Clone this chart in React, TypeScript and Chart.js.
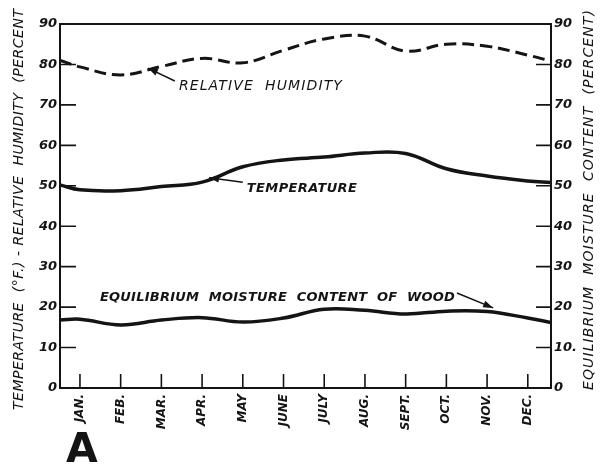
import React, { useEffect, useRef } from "react";
import { Chart, registerables } from "chart.js";

Chart.register(...registerables);

// ---- data ----
const months = ["JAN.", "FEB.", "MAR.", "APR.", "MAY", "JUNE", "JULY", "AUG.", "SEPT.", "OCT.", "NOV.", "DEC."];
const relativeHumidity = [79.4, 77.4, 79.5, 81.5, 80.4, 83.5, 86.3, 87.0, 83.3, 85.0, 84.5, 82.3];
const relativeHumidityEnds = [81.0, 80.8]; // value where the curve meets the left / right axis
const temperature = [49.0, 48.8, 49.8, 50.9, 54.7, 56.4, 57.1, 58.1, 58.0, 54.2, 52.4, 51.2];
const temperatureEnds = [50.2, 50.8];
const moistureContent = [17.0, 15.6, 16.8, 17.4, 16.3, 17.3, 19.5, 19.2, 18.3, 19.0, 18.9, 17.3];
const moistureContentEnds = [16.8, 16.2];
const leftTickLabels = ["0", "10", "20", "30", "40", "50", "60", "70", "80", "90"];
const rightTickLabels = ["0", "10.", "20", "30", "40", "50", "60", "70", "80", "90"];

const X_MIN = -0.49;
const X_MAX = 11.57;
const Y_MAX = 90;

function series(values: number[], ends: number[]) {
  return [
    { x: X_MIN, y: ends[0] },
    ...values.map((y, i) => ({ x: i, y })),
    { x: X_MAX, y: ends[1] },
  ];
}

// annotation anchors in data units
const annotations = [
  { text: "RELATIVE  HUMIDITY", at: { x: 2.43, y: 73.6 }, width: 163, font: 'italic 14px "DejaVu Sans"', tail: { x: 2.33, y: 75.9 }, tip: { x: 1.67, y: 79.1 } },
  { text: "TEMPERATURE", at: { x: 4.1, y: 48.5 }, width: 110, font: 'italic bold 13px "DejaVu Sans"', tail: { x: 4.0, y: 50.9 }, tip: { x: 3.17, y: 52.0 } },
  { text: "EQUILIBRIUM  MOISTURE  CONTENT  OF  WOOD", at: { x: 0.49, y: 21.5 }, width: 355, font: 'italic bold 13px "DejaVu Sans"', tail: { x: 9.26, y: 23.5 }, tip: { x: 10.15, y: 19.8 } },
];

const INK = "#141414";

function fitText(ctx: CanvasRenderingContext2D, text: string, x: number, y: number, width: number) {
  (ctx as any).letterSpacing = "0px";
  const w = ctx.measureText(text).width;
  const n = text.length;
  const sp = n > 1 ? (width - w) / (n - 1) : 0;
  (ctx as any).letterSpacing = sp + "px";
  ctx.fillText(text, x, y);
  (ctx as any).letterSpacing = "0px";
}

const decor = {
  id: "decor",
  afterDraw(chart: any) {
    const ctx: CanvasRenderingContext2D = chart.ctx;
    const { left, right, top, bottom } = chart.chartArea;
    const xs = chart.scales.x;
    const ys = chart.scales.y;
    ctx.save();
    ctx.strokeStyle = INK;
    ctx.fillStyle = INK;
    ctx.lineCap = "butt";

    // top frame
    ctx.lineWidth = 2;
    ctx.beginPath();
    ctx.moveTo(left - 1, top);
    ctx.lineTo(right + 1, top);
    ctx.stroke();

    // inward y ticks
    ctx.lineWidth = 1.6;
    for (let v = 10; v < Y_MAX; v += 10) {
      const py = ys.getPixelForValue(v);
      ctx.beginPath();
      ctx.moveTo(left, py);
      ctx.lineTo(left + 16, py);
      ctx.moveTo(right - 15, py);
      ctx.lineTo(right, py);
      ctx.stroke();
    }
    // inward x ticks
    months.forEach((_, i) => {
      const px = xs.getPixelForValue(i);
      ctx.beginPath();
      ctx.moveTo(px, bottom);
      ctx.lineTo(px, bottom - 14);
      ctx.stroke();
    });

    // axis titles
    ctx.textBaseline = "middle";
    ctx.textAlign = "left";
    ctx.font = 'italic 14px "DejaVu Sans"';
    ctx.save();
    ctx.translate(19, 410);
    ctx.rotate(-Math.PI / 2);
    fitText(ctx, "TEMPERATURE  (°F.) - RELATIVE  HUMIDITY  (PERCENT", 0, 0, 401);
    ctx.restore();
    ctx.save();
    ctx.translate(589, 390);
    ctx.rotate(-Math.PI / 2);
    fitText(ctx, "EQUILIBRIUM  MOISTURE  CONTENT  (PERCENT)", 0, 0, 380);
    ctx.restore();

    // annotations
    ctx.textBaseline = "alphabetic";
    annotations.forEach((a) => {
      ctx.font = a.font;
      fitText(ctx, a.text, xs.getPixelForValue(a.at.x), ys.getPixelForValue(a.at.y), a.width);
      const tx = xs.getPixelForValue(a.tail.x), ty = ys.getPixelForValue(a.tail.y);
      const hx = xs.getPixelForValue(a.tip.x), hy = ys.getPixelForValue(a.tip.y);
      ctx.lineWidth = 1.5;
      ctx.beginPath();
      ctx.moveTo(tx, ty);
      ctx.lineTo(hx, hy);
      ctx.stroke();
      const ang = Math.atan2(hy - ty, hx - tx);
      const L = 10, W = 3.5;
      ctx.beginPath();
      ctx.moveTo(hx, hy);
      ctx.lineTo(hx - L * Math.cos(ang) + W * Math.sin(ang), hy - L * Math.sin(ang) - W * Math.cos(ang));
      ctx.lineTo(hx - L * Math.cos(ang) - W * Math.sin(ang), hy - L * Math.sin(ang) + W * Math.cos(ang));
      ctx.closePath();
      ctx.fill();
    });

    // panel letter
    ctx.font = 'bold 41px "DejaVu Sans"';
    ctx.textBaseline = "alphabetic";
    ctx.textAlign = "left";
    ctx.fillText("A", 66, 462);
    ctx.restore();
  },
};

const whiteBg = {
  id: "whiteBg",
  beforeDraw(chart: any) {
    const ctx = chart.ctx;
    ctx.save();
    ctx.fillStyle = "#ffffff";
    ctx.fillRect(0, 0, chart.width, chart.height);
    ctx.restore();
  },
};

export default function App() {
  const ref = useRef<HTMLCanvasElement | null>(null);
  useEffect(() => {
    if (!ref.current) return;
    const tickFont = { family: '"DejaVu Sans"', size: 13, style: "italic" as const, weight: "bold" as const };
    const chart = new Chart(ref.current, {
      type: "line",
      data: {
        datasets: [
          {
            label: "Relative humidity",
            data: series(relativeHumidity, relativeHumidityEnds),
            borderColor: INK,
            borderWidth: 3,
            borderDash: [12, 6],
            pointRadius: 0,
            tension: 0.4,
            fill: false,
            yAxisID: "y",
          },
          {
            label: "Temperature",
            data: series(temperature, temperatureEnds),
            borderColor: INK,
            borderWidth: 3.5,
            pointRadius: 0,
            tension: 0.4,
            fill: false,
            yAxisID: "y",
          },
          {
            label: "Equilibrium moisture content of wood",
            data: series(moistureContent, moistureContentEnds),
            borderColor: INK,
            borderWidth: 3.5,
            pointRadius: 0,
            tension: 0.4,
            fill: false,
            yAxisID: "y1",
          },
        ],
      },
      options: {
        responsive: false,
        animation: false,
        events: [],
        layout: { padding: { top: 24, left: 0, right: 0, bottom: 0 } },
        plugins: { legend: { display: false }, tooltip: { enabled: false } },
        scales: {
          x: {
            type: "linear",
            min: X_MIN,
            max: X_MAX,
            grid: { display: false, drawTicks: false },
            border: { display: true, color: INK, width: 2 },
            afterBuildTicks: (axis: any) => {
              axis.ticks = months.map((_, i) => ({ value: i }));
            },
            afterFit: (axis: any) => {
              axis.height = 77;
            },
            ticks: {
              autoSkip: false,
              minRotation: 90,
              maxRotation: 90,
              padding: 6,
              color: INK,
              font: { family: '"DejaVu Sans"', size: 12, style: "italic", weight: "bold" },
              callback: (v: any) => months[Math.round(Number(v))] ?? "",
            },
          },
          y: {
            type: "linear",
            position: "left",
            min: 0,
            max: Y_MAX,
            grid: { display: false, drawTicks: false },
            border: { display: true, color: INK, width: 2 },
            afterFit: (axis: any) => {
              axis.width = 60;
            },
            ticks: {
              stepSize: 10,
              padding: 3,
              color: INK,
              font: tickFont,
              callback: (v: any) => leftTickLabels[Math.round(Number(v) / 10)] ?? "",
            },
          },
          y1: {
            type: "linear",
            position: "right",
            min: 0,
            max: Y_MAX,
            grid: { display: false, drawTicks: false },
            border: { display: true, color: INK, width: 2 },
            afterFit: (axis: any) => {
              axis.width = 54;
            },
            ticks: {
              stepSize: 10,
              padding: 3,
              color: INK,
              font: tickFont,
              callback: (v: any) => rightTickLabels[Math.round(Number(v) / 10)] ?? "",
            },
          },
        },
      },
      plugins: [whiteBg, decor],
    });
    return () => chart.destroy();
  }, []);

  return (
    <div style={{ position: "fixed", left: 0, top: 0, width: 605, height: 465, background: "#fff" }}>
      <canvas ref={ref} width={605} height={465} style={{ display: "block" }} />
    </div>
  );
}
